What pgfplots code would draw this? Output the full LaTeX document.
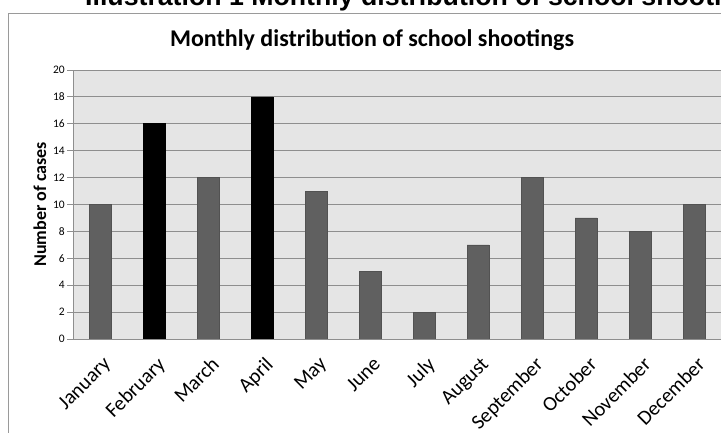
\documentclass[border=0pt]{standalone}
\usepackage{fontspec}
\setmainfont{Carlito}
\newfontfamily\arialfont{Liberation Sans}
\usepackage{pgfplots}
\pgfplotsset{compat=1.18}
\definecolor{bargray}{HTML}{606060}
\definecolor{bgray}{HTML}{E5E5E5}
\definecolor{gridgray}{HTML}{8E8E8E}
\definecolor{framegray}{HTML}{9A9A9A}
\begin{document}
\begin{tikzpicture}
\useasboundingbox (0pt,0pt) rectangle (721pt,433pt);
\clip (0pt,0pt) rectangle (721pt,433pt);
\draw[framegray, line width=0.9pt] (8pt,-20pt) -- (8pt,420pt) -- (760pt,420pt);
\node[anchor=base west, inner sep=0pt, font=\arialfont\bfseries\fontsize{26.7}{30}\selectfont] at (85pt,427pt) {Illustration 1 Monthly distribution of school shootings};
\node[anchor=base, inner sep=0pt, font=\bfseries\fontsize{24}{28}\selectfont] at (372pt,386pt) {Monthly distribution of school shootings};
\begin{axis}[
  at={(73pt,94pt)}, anchor=south west,
  width=648pt, height=269pt, scale only axis,
  xmin=-0.5, xmax=11.5, ymin=0, ymax=20,
  ytick={0,2,...,20},
  xtick={0,...,11},
  xticklabels={January,February,March,April,May,June,July,August,September,October,November,December},
  /pgf/number format/assume math mode=true,
  x tick label style={rotate=45, anchor=north east, font=\fontsize{20.5}{22}\selectfont, inner sep=1pt, xshift=-5pt, yshift=-8pt},
  y tick label style={font=\fontsize{11.5}{13}\selectfont, inner sep=2pt},
  axis x line*=bottom, axis y line*=left,
  axis line style={draw=gridgray, line width=0.9pt, -},
  ymajorgrids, grid style={draw=gridgray, line width=0.9pt},
  tick align=outside, major tick length=6pt,
  ytick style={draw=gridgray, line width=0.9pt},
  xtick style={draw=none},
  axis background/.style={fill=bgray},
  ybar, bar width=22pt, bar shift=0pt,
  ylabel={Number of cases},
  ylabel style={at={(axis description cs:-0.051,0.5)}, anchor=center, font=\bfseries\fontsize{18}{20}\selectfont},
]
\addplot[fill=bargray, draw=bargray!85!black, line width=0.6pt] coordinates {(0,10) (2,12) (4,11) (5,5) (6,2) (7,7) (8,12) (9,9) (10,8) (11,10)};
\addplot[fill=black, draw=black, line width=0.6pt] coordinates {(1,16) (3,18)};
\end{axis}
\end{tikzpicture}
\end{document}
